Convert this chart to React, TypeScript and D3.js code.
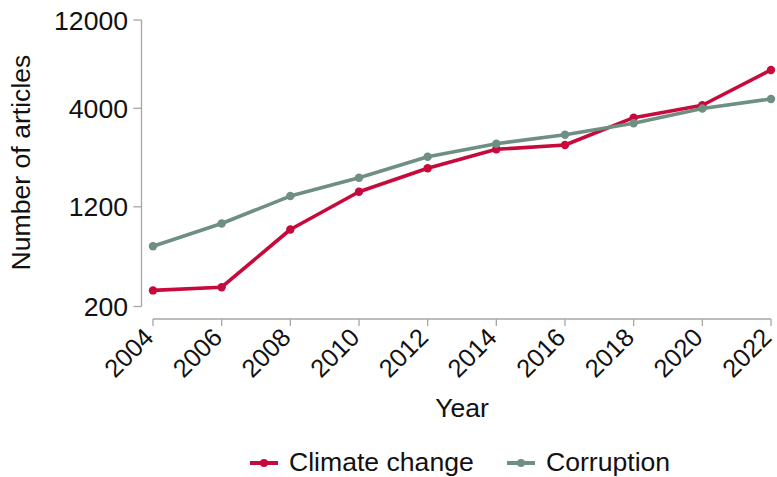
import React from "react";
import * as d3 from "d3";

// Yearly article counts
const YEARS = [2004, 2006, 2008, 2010, 2012, 2014, 2016, 2018, 2020, 2022];
const CLIMATE_CHANGE = [267, 283, 798, 1442, 1920, 2422, 2553, 3565, 4152, 6442];
const CORRUPTION = [590, 889, 1368, 1712, 2213, 2593, 2896, 3329, 3990, 4490];
const Y_TICKS = [200, 1200, 4000, 12000];

const SERIES = [
  { name: "Climate change", values: CLIMATE_CHANGE, color: "#c8093b" },
  { name: "Corruption", values: CORRUPTION, color: "#6e8f82" },
];

const W = 777;
const H = 477;
const FONT = "'Liberation Sans', Arial, sans-serif";
const AXIS = "#a6a6a6";
const FS = 26.6;

export default function App() {
  const top = 20;
  const bottom = 306.5;
  const h = bottom - top;
  const x = d3.scaleLinear().domain([2004, 2022]).range([153, 771]);
  // piecewise log scale through the labelled breaks
  const y = d3
    .scaleLog()
    .domain(Y_TICKS)
    .range([bottom, top + h * 0.652, top + h * 0.308, top]);

  const line = d3
    .line<number>()
    .x((_, i) => x(YEARS[i]))
    .y((v) => y(v));

  const yAxisX = 141.5;
  const xAxisY = 319;

  return (
    <svg
      width={W}
      height={H}
      style={{ position: "absolute", left: 0, top: 0, background: "#fff" }}
      fontFamily={FONT}
    >
      {/* y axis */}
      <line x1={yAxisX} x2={yAxisX} y1={top} y2={bottom} stroke={AXIS} strokeWidth={1.3} />
      {Y_TICKS.map((t) => (
        <g key={t} transform={`translate(0,${y(t)})`}>
          <line x1={yAxisX - 8} x2={yAxisX} stroke={AXIS} strokeWidth={1.3} />
          <text x={128} dy="0.36em" textAnchor="end" fontSize={FS} fill="#111">
            {t}
          </text>
        </g>
      ))}
      <text
        transform={`translate(30,${162.5}) rotate(-90)`}
        textAnchor="middle"
        fontSize={FS}
        fill="#111"
      >
        Number of articles
      </text>

      {/* x axis */}
      <line x1={x(2004)} x2={x(2022)} y1={xAxisY} y2={xAxisY} stroke={AXIS} strokeWidth={1.3} />
      {YEARS.map((yr) => (
        <g key={yr} transform={`translate(${x(yr)},${xAxisY})`}>
          <line y1={0} y2={7} stroke={AXIS} strokeWidth={1.3} />
          <text
            transform="translate(2,20) rotate(-45)"
            textAnchor="end"
            fontSize={25.5}
            fill="#111"
          >
            {yr}
          </text>
        </g>
      ))}
      <text x={(x(2004) + x(2022)) / 2} y={417} textAnchor="middle" fontSize={FS} fill="#111">
        Year
      </text>

      {/* series */}
      {SERIES.map((s) => (
        <g key={s.name}>
          <path d={line(s.values) || ""} fill="none" stroke={s.color} strokeWidth={3.6} strokeLinejoin="round" />
          {s.values.map((v, i) => (
            <circle key={i} cx={x(YEARS[i])} cy={y(v)} r={4.2} fill={s.color} />
          ))}
        </g>
      ))}

      {/* legend */}
      {SERIES.map((s, i) => {
        const lx = i === 0 ? 250 : 507;
        const ly = 463;
        return (
          <g key={s.name} transform={`translate(${lx},${ly})`}>
            <line x1={0} x2={28} stroke={s.color} strokeWidth={4} />
            <circle cx={14} cy={0} r={4} fill={s.color} />
            <text x={39} y={8.3} fontSize={FS} fill="#111">
              {s.name}
            </text>
          </g>
        );
      })}
    </svg>
  );
}
